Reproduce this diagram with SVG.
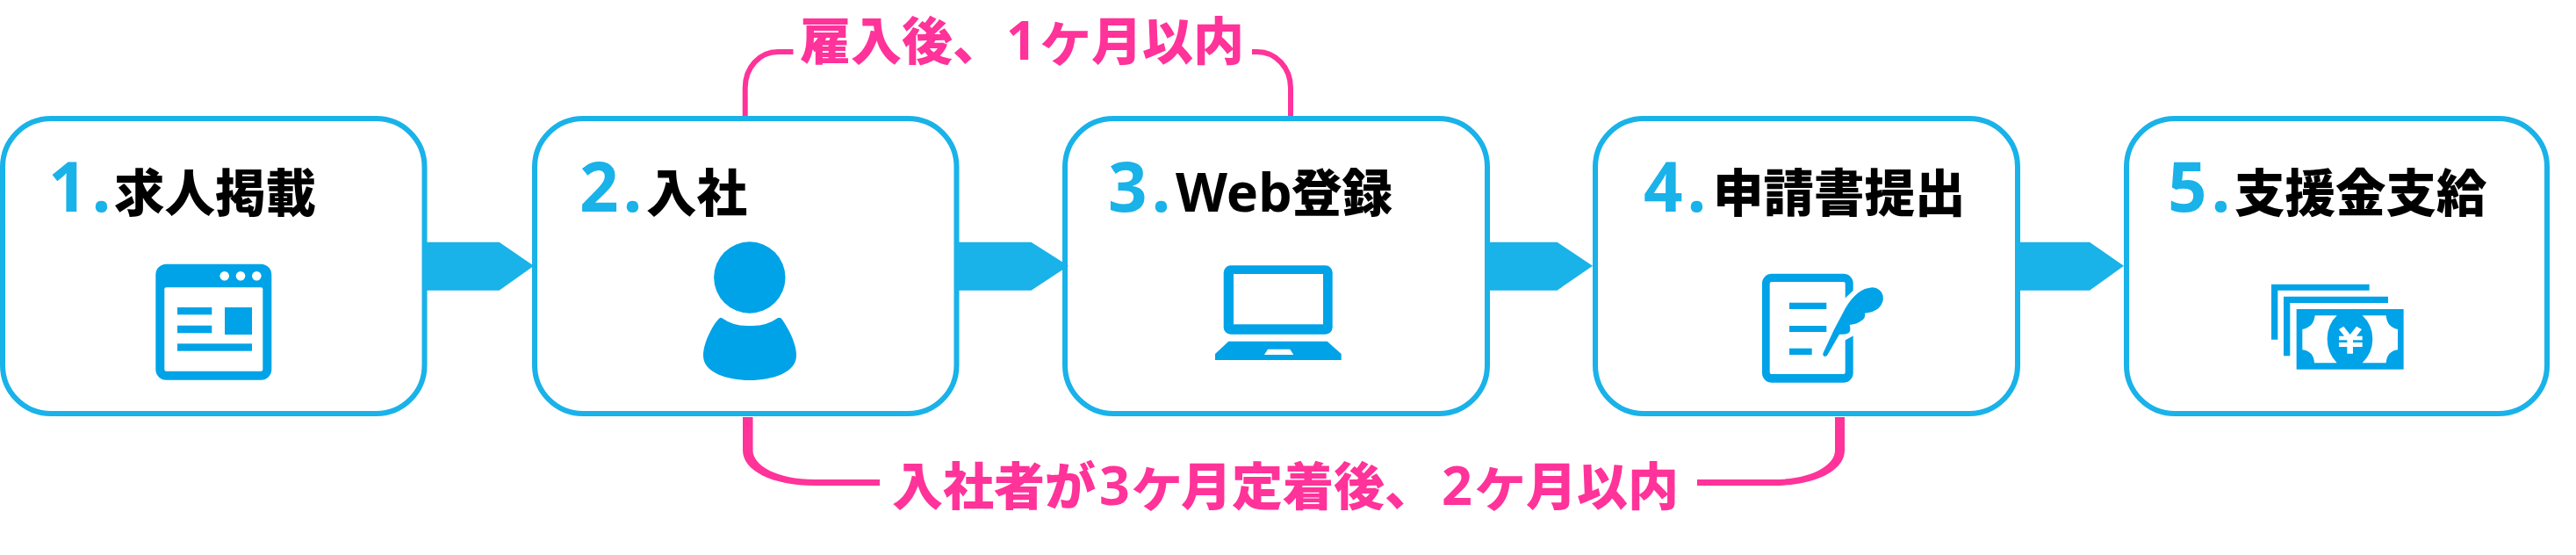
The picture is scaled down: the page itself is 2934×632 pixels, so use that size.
<svg xmlns="http://www.w3.org/2000/svg" width="2934" height="632" viewBox="0 0 2934 632">
<style>
.box{fill:#fff;stroke:#19b2e9;stroke-width:6}
.arrow{fill:#19b2e9}
.num{font-family:"Noto Sans","Noto Sans CJK JP",sans-serif;font-weight:700;font-size:78px;letter-spacing:5px;fill:#19b2e9}
.ttl{font-family:"Noto Sans CJK JP","Noto Sans",sans-serif;font-weight:900;font-size:57.5px;fill:#000}
.lat{font-family:"Noto Sans",sans-serif;font-weight:700;font-size:61px;fill:#000}
.lbl{font-family:"Noto Sans CJK JP","Noto Sans",sans-serif;font-weight:900;font-size:58px;fill:#ff3399}
.lbd{font-family:"Noto Sans",sans-serif;font-weight:700;font-size:61px;fill:#ff3399}
.kana{font-size:68px;font-weight:700;text-anchor:middle}
.ic{fill:#00a3e7}
.wh{fill:#fff}
.br{fill:none;stroke:#ff3399;stroke-width:6}
.brf{fill:#ff3399}
</style>
<g id="connectors">
<path class="br" d="M848.7 133V100C848.7 77 865 59 886 59H903.5"/>
<path class="br" d="M1470 133V100C1470 77 1453 59 1432 59H1426"/>
<path class="brf" d="M846 475V513C846 536 880 553 928 553H1002V546H928C885 546 857.5 530 857.5 513V475Z"/>
<path class="brf" d="M2101 475V513C2101 536 2067 553 2020 553H1933V546H2020C2063 546 2090 530 2090 513V475Z"/>
</g>
<g id="node1">
<rect class="box" x="3" y="135" width="480.500" height="336" rx="55"/>
<text class="num" x="55" y="241">1.</text>
<text class="ttl" x="130" y="241">求人掲載</text>
<g id="icon-window">
<rect class="ic" x="177.300" y="300.700" width="132" height="132" rx="12"/>
<rect class="wh" x="187.300" y="327.300" width="112" height="95.400" rx="2"/>
<circle class="wh" cx="255.700" cy="314.300" r="5.300"/><circle class="wh" cx="274" cy="314.300" r="5.300"/><circle class="wh" cx="292.300" cy="314.300" r="5.300"/>
<rect class="ic" x="202" y="350" width="39.300" height="8.300"/>
<rect class="ic" x="202" y="370.700" width="39.300" height="8.600"/>
<rect class="ic" x="256" y="350" width="31" height="31"/>
<rect class="ic" x="202" y="391.300" width="85" height="8.400"/>
</g>
</g>
<g id="node2">
<rect class="box" x="609" y="135" width="480.500" height="336" rx="55"/>
<text class="num" x="660" y="241">2.</text>
<text class="ttl" x="736" y="241">入社</text>
<g id="icon-person">
<circle class="ic" cx="853.800" cy="316" r="40.700"/>
<path class="ic" d="M822 362Q836 372 854 371Q872 372 886 362Q889 361 891 364Q907 388 907 405C907 424 880 433 854 433C828 433 801 424 801 405C801 388 815 366 818 364Q820 361 822 362Z"/>
</g>
</g>
<g id="node3">
<rect class="box" x="1213" y="135" width="481" height="336" rx="55"/>
<text class="num" x="1262" y="241">3.</text>
<text class="lat" x="1339" y="241">Web</text>
<text class="ttl" x="1471" y="241">登録</text>
<g id="icon-laptop">
<rect class="ic" x="1393.700" y="302.300" width="124" height="78.400" rx="8"/>
<rect class="wh" x="1405" y="312" width="102" height="57.300"/>
<path class="ic" d="M1399.300 388.700H1511.700L1527.700 403V410H1384V403Z"/>
<path class="wh" d="M1444 397.700H1469.300L1473.300 404H1440Z"/>
</g>
</g>
<g id="node4">
<rect class="box" x="1817" y="135" width="481" height="336" rx="55"/>
<text class="num" x="1872" y="241">4.</text>
<text class="ttl" x="1951" y="241">申請書提出</text>
<g id="icon-document">
<rect class="ic" x="2007" y="311.700" width="103.700" height="124" rx="11"/>
<rect class="wh" x="2015.700" y="321" width="86" height="105" rx="2"/>
<rect class="ic" x="2038" y="344.700" width="42.300" height="7.300"/>
<rect class="ic" x="2038" y="371" width="42.300" height="7"/>
<rect class="ic" x="2038" y="396.700" width="25.700" height="7.300"/>
<g transform="translate(1970 290) scale(.3333)">
<path class="wh" d="M393 150L422 123H426V275L393 293Z"/>
<path class="ic" d="M320 335Q316 345 326 348Q333 348 336 340L375 272Q395 274 406 268Q416 260 410 240Q435 238 450 226Q466 216 462 200Q490 198 508 184Q528 164 524 140Q516 114 488 112Q460 114 440 130Q415 150 396 182Q355 255 320 335Z"/>
</g>
</g>
</g>
<g id="node5">
<rect class="box" x="2422" y="135" width="479" height="336" rx="55"/>
<text class="num" x="2469" y="241">5.</text>
<text class="ttl" x="2545" y="241">支援金支給</text>
<g id="icon-money" transform="translate(2560 300) scale(.3333)">
<path class="ic" d="M81 71H416V92H103V260H81Z"/>
<path class="ic" d="M123 113H480V135H145V316H123Z"/>
<rect class="ic" x="167" y="156" width="366" height="206"/>
<path class="wh" d="M230 178H305Q272 210 272 258Q272 305 305 340H228Q226 300 187 295V225Q226 218 230 178Z"/>
<path class="wh" d="M392 178H473Q476 218 513 225V295Q476 300 473 340H392Q427 305 427 258Q427 210 392 178Z"/>
<path class="wh" d="M312 225L328 215L350 243L372 215L390 225L372 248H392V262H360V270H392V285H360V308H340V285H312V270H340V262H312V248H330Z"/>
</g>
</g>
<g id="arrows">
<path class="arrow" d="M486 275.700H568.600L608 302.700L568.600 330.700H486Z"/>
<path class="arrow" d="M1092 275.700H1174.500L1217 302.700L1174.500 330.700H1092Z"/>
<path class="arrow" d="M1697 275.700H1773.500L1814 302.700L1773.500 330.700H1697Z"/>
<path class="arrow" d="M2301 275.700H2380L2419 302.700L2380 330.700H2301Z"/>
</g>
<g id="labels">
<text class="lbl" x="911" y="68">雇入後、</text>
<text class="lbd" x="1146" y="68">1</text>
<text class="lbl kana" x="1214" y="68">ヶ</text>
<text class="lbl" x="1243" y="68">月以内</text>
<text class="lbl" x="1016" y="574.500">入社者が</text>
<text class="lbd" x="1252" y="574.500">3</text>
<text class="lbl kana" x="1318" y="574.500">ヶ</text>
<text class="lbl" x="1345" y="574.500">月定着後、</text>
<text class="lbd" x="1642" y="574.500">2</text>
<text class="lbl kana" x="1709" y="574.500">ヶ</text>
<text class="lbl" x="1738" y="574.500">月以内</text>
</g>
</svg>
